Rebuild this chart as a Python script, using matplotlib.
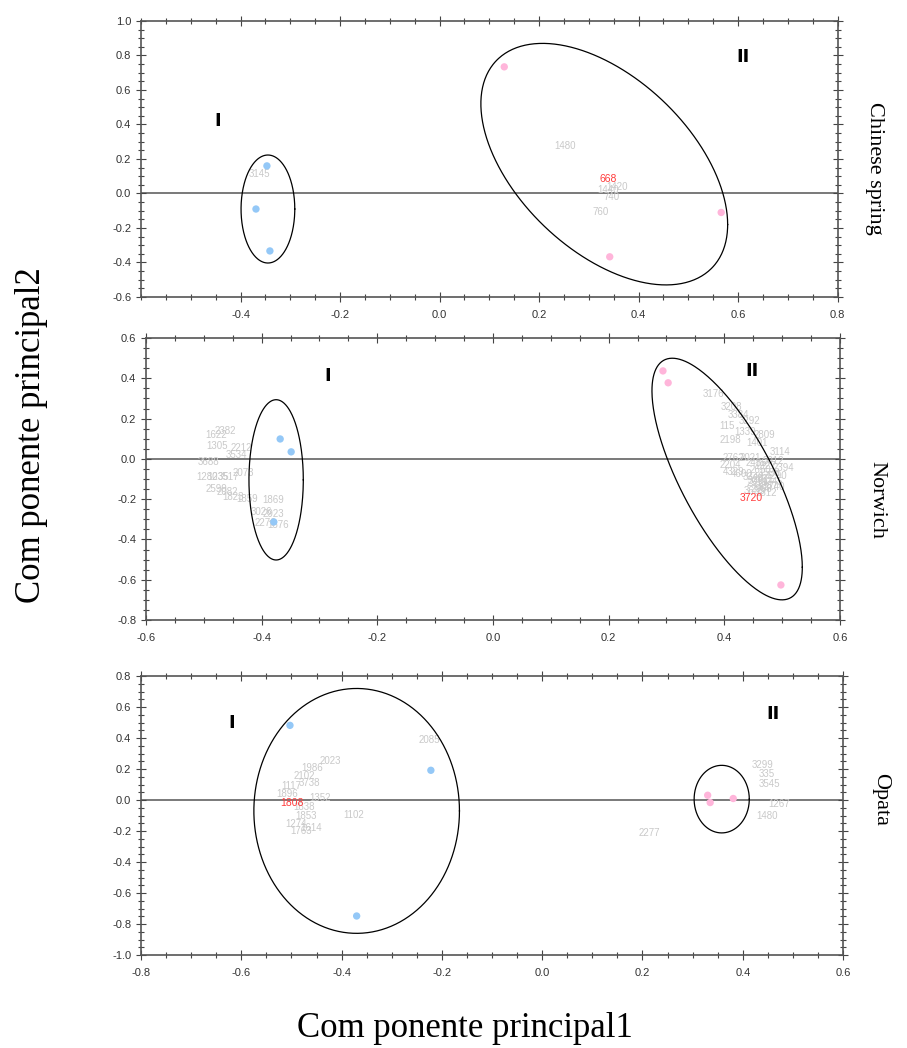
import numpy as np
import matplotlib
matplotlib.use("Agg")
from matplotlib import pyplot as plt
from matplotlib.ticker import MultipleLocator, FormatStrFormatter

# ---- Chinese spring ----
cs_blue_x = [-0.347, -0.369, -0.341]
cs_blue_y = [0.160, -0.090, -0.333]
cs_pink_x = [0.130, 0.342, 0.566]
cs_pink_y = [0.734, -0.367, -0.110]
cs_lab_text = ["3145", "1480", "1420", "1440", "740", "760"]
cs_lab_x = [-0.362, 0.253, 0.357, 0.338, 0.345, 0.324]
cs_lab_y = [0.112, 0.277, 0.040, 0.020, -0.020, -0.105]
cs_red_text = ["668"]
cs_red_x = [0.339]
cs_red_y = [0.084]
# ellipse: centre x, centre y, half width, half height, skew of top point
cs_ell = [(-0.345, -0.090, 0.054, 0.313, 0.0),
          (0.331, 0.170, 0.248, 0.700, -0.50)]
cs_groups = [("I", -0.445, 0.42), ("II", 0.609, 0.791)]

# ---- Norwich ----
nw_blue_x = [-0.368, -0.349, -0.379]
nw_blue_y = [0.099, 0.035, -0.313]
nw_pink_x = [0.294, 0.303, 0.498]
nw_pink_y = [0.437, 0.378, -0.626]
nw_lab_text = ["2382", "1622", "1305", "2212", "3534", "3688", "1280", "1235",
               "3517", "2073", "2599", "2082", "1823", "1859", "1869", "3026",
               "2923", "2276", "1576",
               "3176", "3208", "3384", "3292", "115", "1339", "2809", "2198",
               "1401", "3114", "2762", "2021", "2204", "2394", "4329", "4600",
               "2436", "1927", "3012", "2650", "1588", "3340", "2871", "1745",
               "2519", "3087", "1290", "2968", "3655", "1812", "2740", "3391"]
nw_lab_x = [-0.463, -0.479, -0.477, -0.435, -0.443, -0.492, -0.495, -0.475,
            -0.458, -0.432, -0.478, -0.460, -0.449, -0.426, -0.380, -0.400,
            -0.380, -0.394, -0.371,
            0.381, 0.413, 0.424, 0.444, 0.404, 0.436, 0.470, 0.410,
            0.456, 0.496, 0.416, 0.445, 0.410, 0.502, 0.416, 0.430,
            0.455, 0.470, 0.485, 0.462, 0.478, 0.450, 0.468, 0.482,
            0.458, 0.474, 0.490, 0.465, 0.452, 0.472, 0.487, 0.460]
nw_lab_y = [0.141, 0.119, 0.066, 0.056, 0.020, -0.013, -0.091, -0.088,
            -0.088, -0.068, -0.151, -0.162, -0.187, -0.200, -0.204, -0.262,
            -0.273, -0.320, -0.328,
            0.323, 0.260, 0.219, 0.186, 0.161, 0.136, 0.119, 0.094,
            0.078, 0.036, 0.003, 0.005, -0.030, -0.046, -0.063, -0.075,
            -0.020, -0.035, -0.010, -0.055, -0.070, -0.090, -0.100, -0.115,
            -0.120, -0.135, -0.085, -0.150, -0.160, -0.170, -0.140, -0.110]
nw_red_text = ["3720"]
nw_red_x = [0.447]
nw_red_y = [-0.195]
nw_ell = [(-0.375, -0.104, 0.047, 0.398, 0.0),
          (0.405, -0.100, 0.130, 0.600, -0.73)]
nw_groups = [("I", -0.285, 0.413), ("II", 0.448, 0.437)]

# ---- Opata ----
op_blue_x = [-0.503, -0.222, -0.370]
op_blue_y = [0.482, 0.192, -0.748]
op_pink_x = [0.330, 0.335, 0.381]
op_pink_y = [0.031, -0.016, 0.010]
op_lab_text = ["2085", "2023", "1986", "2102", "3738", "1117", "1896", "1352",
               "1838", "1853", "1274", "1614", "1763", "1102",
               "3299", "335", "3545", "1267", "1480", "2277"]
op_lab_x = [-0.226, -0.423, -0.458, -0.475, -0.465, -0.501, -0.508, -0.442,
            -0.475, -0.471, -0.491, -0.461, -0.481, -0.375,
            0.440, 0.448, 0.453, 0.473, 0.448, 0.214]
op_lab_y = [0.385, 0.252, 0.209, 0.153, 0.113, 0.089, 0.037, 0.014,
            -0.048, -0.104, -0.152, -0.180, -0.199, -0.098,
            0.224, 0.166, 0.106, -0.027, -0.104, -0.212]
op_red_text = ["1808"]
op_red_x = [-0.499]
op_red_y = [-0.016]
op_ell = [(-0.370, -0.070, 0.205, 0.790, 0.0),
          (0.358, 0.006, 0.055, 0.218, 0.0)]
op_groups = [("I", -0.620, 0.495), ("II", 0.461, 0.553)]

panel_names = ["Chinese spring", "Norwich", "Opata"]
name_pos = [0.467, 0.426, 0.556]
xlims = [(-0.6, 0.8), (-0.6, 0.6), (-0.8, 0.6)]
ylims = [(-0.6, 1.0), (-0.8, 0.6), (-1.0, 0.8)]
xtick_first = [-0.4, -0.6, -0.8]

BLUE = "#94c8f7"
PINK = "#ffb5da"
GRAY = "#c9c9c9"
RED = "#ff3b3b"

plt.rcParams["axes.unicode_minus"] = False
plt.rcParams["font.family"] = "Liberation Sans"


def draw_ellipse(ax, cx, cy, xh, yh, skew):
    t = np.linspace(0, 2 * np.pi, 400)
    psi = np.arcsin(skew)
    ax.plot(cx + xh * np.cos(t), cy + yh * np.sin(t + psi), color="black", lw=0.9, zorder=3)


def ticks(start, stop):
    # +0.0 turns -0.0 into 0.0 so the label reads "0.0"
    return np.round(np.arange(start, stop + 0.01, 0.2), 1) + 0.0


def main():
    fig = plt.figure(figsize=(9.07, 10.48), dpi=100)
    boxes = [[0.1555, 0.7166, 0.768, 0.2634],
             [0.161, 0.4084, 0.765, 0.269],
             [0.1555, 0.0887, 0.774, 0.2662]]

    panels = [
        (cs_blue_x, cs_blue_y, cs_pink_x, cs_pink_y, cs_lab_text, cs_lab_x, cs_lab_y,
         cs_red_text, cs_red_x, cs_red_y, cs_ell, cs_groups),
        (nw_blue_x, nw_blue_y, nw_pink_x, nw_pink_y, nw_lab_text, nw_lab_x, nw_lab_y,
         nw_red_text, nw_red_x, nw_red_y, nw_ell, nw_groups),
        (op_blue_x, op_blue_y, op_pink_x, op_pink_y, op_lab_text, op_lab_x, op_lab_y,
         op_red_text, op_red_x, op_red_y, op_ell, op_groups),
    ]

    for i, p in enumerate(panels):
        (bx, by, px, py, lt, lx, ly, rt, rx, ry, ells, groups) = p
        ax = fig.add_axes(boxes[i])
        ax.set_xlim(*xlims[i])
        ax.set_ylim(*ylims[i])

        ax.axhline(0, color="#555555", lw=1.1, zorder=1)

        for t, x, y in zip(lt, lx, ly):
            ax.text(x, y, t, color=GRAY, fontsize=7, ha="center", va="center", zorder=2)
        for t, x, y in zip(rt, rx, ry):
            ax.text(x, y, t, color=RED, fontsize=7.5, ha="center", va="center", zorder=4)

        ax.scatter(bx, by, s=28, color=BLUE, edgecolors="none", zorder=5)
        ax.scatter(px, py, s=28, color=PINK, edgecolors="none", zorder=5)

        for e in ells:
            draw_ellipse(ax, *e)

        for g, x, y in groups:
            ax.text(x, y, g, fontsize=13, fontweight="bold", family="DejaVu Sans",
                    ha="center", va="center", color="black")

        ax.text(1.04, name_pos[i], panel_names[i], transform=ax.transAxes, rotation=270,
                family="Liberation Serif", fontsize=16, ha="left", va="center")

        ax.set_xticks(ticks(xtick_first[i], xlims[i][1]))
        ax.set_yticks(ticks(ylims[i][0], ylims[i][1]))
        ax.xaxis.set_major_formatter(FormatStrFormatter("%.1f"))
        ax.yaxis.set_major_formatter(FormatStrFormatter("%.1f"))
        ax.xaxis.set_minor_locator(MultipleLocator(0.05))
        ax.yaxis.set_minor_locator(MultipleLocator(0.05))
        ax.tick_params(which="both", direction="inout", top=True, right=True,
                       colors="#444444", labelcolor="#333333", labelsize=8, width=0.8)
        ax.tick_params(which="major", length=7)
        ax.tick_params(which="minor", length=4)
        ax.tick_params(axis="x", pad=6)
        for s in ax.spines.values():
            s.set_color("#555555")
            s.set_linewidth(1.2)

    fig.text(0.035, 0.585, "Com ponente principal2", rotation=90, family="Liberation Serif",
             fontsize=25, ha="center", va="center")
    fig.text(0.513, 0.019, "Com ponente principal1", family="Liberation Serif",
             fontsize=25, ha="center", va="center")

    fig.savefig("out.png", dpi=100)


if __name__ == "__main__":
    main()
